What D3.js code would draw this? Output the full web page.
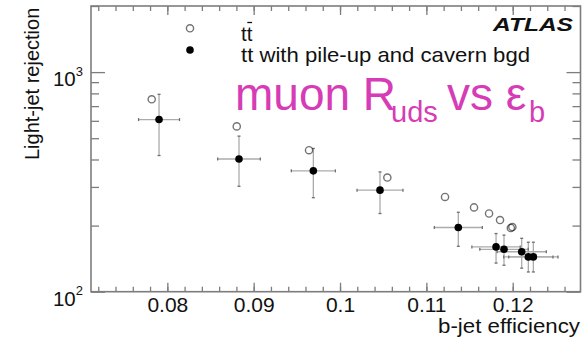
<!DOCTYPE html>
<html><head><meta charset="utf-8">
<script src="https://cdn.jsdelivr.net/npm/d3@7"></script>
<style>
html,body{margin:0;padding:0;background:#fff;}
svg{display:block;font-family:"Liberation Sans",Arial,Helvetica,sans-serif;}
</style></head><body>
<svg id="chart" width="583" height="337"></svg>
<script>
// Light-jet rejection vs b-jet efficiency (muon tagger), ttbar samples

// ttbar (no pile-up): open markers
const ttEff = [0.07819, 0.08804, 0.09641, 0.10548, 0.11216, 0.11552, 0.11726, 0.11853, 0.11978, 0.11996];
const ttRej = [752, 566, 441, 331, 270, 242, 227, 212, 195, 197];

// ttbar with pile-up and cavern background: filled markers with errors
const puEff    = [0.07904, 0.08830, 0.09691, 0.10463, 0.11370, 0.11807, 0.11899, 0.12104, 0.12181, 0.12239];
const puEffErr = [0.00237, 0.00247, 0.00255, 0.00266, 0.00278, 0.00280, 0.00280, 0.00285, 0.00285, 0.00285];
const puRej    = [608, 402, 355, 290, 196, 160, 156, 152, 144, 144];
const puRejLo  = [417, 302, 268, 227, 161, 135, 132, 128, 123, 123];
const puRejHi  = [792, 511, 449, 351, 230, 184, 181, 175, 168, 168];

// axis ticks and labels
const xMajorTicks = [0.08, 0.09, 0.10, 0.11, 0.12];
const xTickLabels = ["0.08", "0.09", "0.1", "0.11", "0.12"];
const yMajorTicks = [100, 1000];
const yTickExponents = ["2", "3"];
const yMinorTicks = [200, 300, 400, 500, 600, 700, 800, 900, 2000];

const legendLabels = ["tt", "tt with pile-up and cavern bgd"];

const svg = d3.select("#chart");
const frame = {left: 91, right: 580.5, top: 6, bottom: 291.7};

const x = d3.scaleLinear().domain([0.07116, 0.12785]).range([frame.left, frame.right]);
const y = d3.scaleLog().domain([100, 2000]).range([frame.bottom, frame.top]);

const axisColor = "#7d7d7d";
const xMinorTicks = d3.range(36, 64).map(i => +(i * 0.002).toFixed(3));

function styleAxis(g) {
  g.select(".domain").remove();
  g.selectAll(".tick line").attr("stroke", axisColor).attr("stroke-width", 1.3);
}

// bottom axis
svg.append("g").attr("transform", `translate(0,${frame.bottom})`)
  .call(d3.axisBottom(x).tickValues(xMinorTicks).tickSize(-5).tickFormat(""))
  .call(styleAxis);
svg.append("g").attr("transform", `translate(0,${frame.bottom})`)
  .call(d3.axisBottom(x).tickValues(xMajorTicks).tickSize(-9).tickPadding(5.5)
        .tickFormat((d, i) => xTickLabels[i]))
  .call(styleAxis)
  .call(g => g.selectAll("text").attr("fill", "#111").style("font-size", "21px")
              .style("font-family", "Liberation Sans, Arial, sans-serif"));
// top axis
svg.append("g").attr("transform", `translate(0,${frame.top})`)
  .call(d3.axisTop(x).tickValues(xMinorTicks).tickSize(-5).tickFormat(""))
  .call(styleAxis);
svg.append("g").attr("transform", `translate(0,${frame.top})`)
  .call(d3.axisTop(x).tickValues(xMajorTicks).tickSize(-9).tickFormat(""))
  .call(styleAxis);

// left axis
svg.append("g").attr("transform", `translate(${frame.left},0)`)
  .call(d3.axisLeft(y).tickValues(yMinorTicks).tickSize(-8).tickFormat(""))
  .call(styleAxis);
svg.append("g").attr("transform", `translate(${frame.left},0)`)
  .call(d3.axisLeft(y).tickValues(yMajorTicks).tickSize(-14).tickFormat(""))
  .call(styleAxis);
// right axis
svg.append("g").attr("transform", `translate(${frame.right},0)`)
  .call(d3.axisRight(y).tickValues(yMinorTicks).tickSize(-8).tickFormat(""))
  .call(styleAxis);
svg.append("g").attr("transform", `translate(${frame.right},0)`)
  .call(d3.axisRight(y).tickValues(yMajorTicks).tickSize(-14).tickFormat(""))
  .call(styleAxis);

// y tick labels as powers of ten
const yLab = svg.append("g").selectAll("text").data(yMajorTicks).join("text")
  .attr("x", 83).attr("y", d => y(d) + 14)
  .attr("text-anchor", "end").attr("fill", "#111").style("font-size", "20.5px");
yLab.append("tspan").text("10");
yLab.append("tspan").attr("dy", -10.5).style("font-size", "13px").text((d, i) => yTickExponents[i]);

// frame
svg.append("rect")
  .attr("x", frame.left).attr("y", frame.top)
  .attr("width", frame.right - frame.left).attr("height", frame.bottom - frame.top)
  .attr("fill", "none").attr("stroke", axisColor).attr("stroke-width", 1.6);

// axis titles
svg.append("text")
  .attr("transform", "translate(39,160) rotate(-90)")
  .attr("fill", "#111").style("font-size", "20px")
  .text("Light-jet rejection");
svg.append("text")
  .attr("x", 580).attr("y", 332.5).attr("text-anchor", "end")
  .attr("fill", "#111").style("font-size", "21px")
  .attr("textLength", 142).attr("lengthAdjust", "spacingAndGlyphs")
  .text("b-jet efficiency");

// error bars
const errColor = "#ababab", capColor = "#6f6f6f";
const pts = puEff.map((e, i) => ({e, ex: puEffErr[i], r: puRej[i], lo: puRejLo[i], hi: puRejHi[i]}));
const eb = svg.append("g");
eb.selectAll(".v").data(pts).join("line")
  .attr("x1", d => x(d.e)).attr("x2", d => x(d.e))
  .attr("y1", d => y(d.lo)).attr("y2", d => y(d.hi))
  .attr("stroke", errColor).attr("stroke-width", 1.3);
eb.selectAll(".h").data(pts).join("line")
  .attr("x1", d => x(d.e - d.ex)).attr("x2", d => x(d.e + d.ex))
  .attr("y1", d => y(d.r)).attr("y2", d => y(d.r))
  .attr("stroke", errColor).attr("stroke-width", 1.3);
// end caps
const caps = [];
pts.forEach(d => {
  caps.push({x1: x(d.e) - 1.5, x2: x(d.e) + 1.5, y1: y(d.lo), y2: y(d.lo)});
  caps.push({x1: x(d.e) - 1.5, x2: x(d.e) + 1.5, y1: y(d.hi), y2: y(d.hi)});
  caps.push({x1: x(d.e - d.ex), x2: x(d.e - d.ex), y1: y(d.r) - 1.5, y2: y(d.r) + 1.5});
  caps.push({x1: x(d.e + d.ex), x2: x(d.e + d.ex), y1: y(d.r) - 1.5, y2: y(d.r) + 1.5});
});
eb.selectAll(".cap").data(caps).join("line")
  .attr("x1", d => d.x1).attr("x2", d => d.x2).attr("y1", d => d.y1).attr("y2", d => d.y2)
  .attr("stroke", capColor).attr("stroke-width", 1.3);

// open markers (no pile-up)
svg.append("g").selectAll("circle").data(ttEff).join("circle")
  .attr("cx", d => x(d)).attr("cy", (d, i) => y(ttRej[i])).attr("r", 3.6)
  .attr("fill", "none").attr("stroke", "#000").attr("stroke-opacity", 0.55).attr("stroke-width", 1.4);

// filled markers (pile-up and cavern background)
svg.append("g").selectAll("circle").data(pts).join("circle")
  .attr("cx", d => x(d.e)).attr("cy", d => y(d.r)).attr("r", 3.8).attr("fill", "#000");

// legend
svg.append("circle").attr("cx", 190).attr("cy", 28.3).attr("r", 3.6)
  .attr("fill", "none").attr("stroke", "#000").attr("stroke-opacity", 0.55).attr("stroke-width", 1.4);
svg.append("circle").attr("cx", 190).attr("cy", 50).attr("r", 3.8).attr("fill", "#000");
const leg1 = svg.append("text").attr("x", 241).attr("y", 41).attr("fill", "#111")
  .style("font-size", "20.5px").text(legendLabels[0]);
svg.append("text").attr("x", 241).attr("y", 62).attr("fill", "#111")
  .style("font-size", "21px").attr("textLength", 289).attr("lengthAdjust", "spacingAndGlyphs")
  .text(legendLabels[1]);
// anti-top bar over the second t
const tW = leg1.node().getComputedTextLength() / 2;
svg.append("line").attr("x1", 241 + tW + 0.6).attr("x2", 241 + 2 * tW - 0.3)
  .attr("y1", 22.5).attr("y2", 22.5).attr("stroke", "#111").attr("stroke-width", 1.3);

// experiment label
svg.append("text").attr("x", 573).attr("y", 31).attr("text-anchor", "end")
  .attr("fill", "#111").style("font-size", "19px").style("font-weight", "bold")
  .style("font-style", "italic").attr("textLength", 80).attr("lengthAdjust", "spacingAndGlyphs")
  .text("ATLAS");

// title in magenta
const title = svg.append("text").attr("y", 110)
  .attr("fill", "#d63cb5").style("font-size", "46px");
title.append("tspan").attr("x", 235).text("muon R");
title.append("tspan").attr("x", 391).attr("dy", 12).style("font-size", "29px").text("uds");
title.append("tspan").attr("x", 447).attr("dy", -12).text("vs ε");
title.append("tspan").attr("x", 529).attr("dy", 12).style("font-size", "29px").text("b");
</script>
</body></html>
